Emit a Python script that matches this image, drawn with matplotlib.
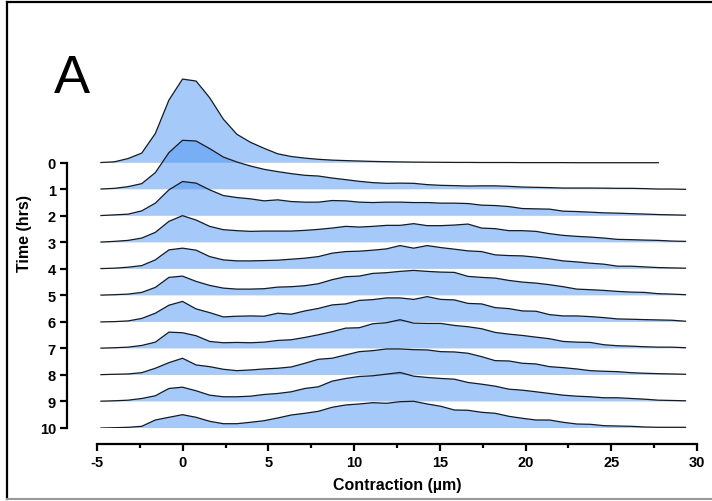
import numpy as np
import matplotlib
matplotlib.use('Agg')
import matplotlib.pyplot as plt
from matplotlib.lines import Line2D
from matplotlib.ticker import MultipleLocator

plt.rcParams['font.family'] = ['Liberation Sans', 'DejaVu Sans']
plt.rcParams['axes.unicode_minus'] = False

# bin centres of the contraction histogram (µm)
contraction = np.linspace(-4.77, 29.33, 44)
hours = list(range(11))

# relative frequency per bin, one ridge per time point
freq_0h = [0.3, 1.0, 4.3, 9.7, 29.3, 62.7, 83.7, 81.7, 65.0, 43.7, 28.5, 20.5, 14.5, 9.0,
           6.3, 4.7, 3.5, 2.7, 2.2, 1.8, 1.4, 1.1, 0.9, 0.7, 0.6, 0.5, 0.4, 0.4, 0.3, 0.3,
           0.3, 0.2, 0.2, 0.2, 0.2, 0.1, 0.1, 0.1, 0.1, 0.1, 0.1, 0.1]
freq_1h = [0.3, 1.0, 2.7, 5.7, 16.7, 36.7, 49.0, 48.3, 40.7, 32.3, 27.3, 23.3, 20.0, 17.7,
           15.7, 14.0, 13.3, 11.3, 9.7, 8.0, 6.7, 6.0, 6.2, 6.0, 4.7, 4.0, 3.7, 3.3, 3.5, 3.5,
           3.0, 2.3, 2.0, 1.7, 1.3, 1.3, 1.3, 1.2, 1.0, 1.0, 0.7, 0.3, 0.3, 0.0]
freq_2h = [0.3, 1.0, 1.7, 5.0, 12.7, 26.0, 34.3, 32.7, 26.0, 20.3, 18.3, 17.0, 15.0, 16.0,
           14.3, 13.7, 13.7, 15.3, 15.0, 13.7, 13.3, 13.7, 13.7, 13.3, 13.3, 12.7, 12.7, 12.3,
           10.7, 10.3, 9.3, 7.3, 7.0, 6.7, 4.7, 4.3, 3.7, 3.0, 2.7, 2.2, 1.8, 1.3, 1.0, 0.7]
freq_3h = [0.3, 1.0, 2.0, 4.3, 10.0, 21.0, 26.7, 22.3, 16.0, 12.7, 11.7, 11.0, 11.3, 11.3,
           11.3, 12.0, 13.0, 14.3, 16.0, 15.3, 16.0, 17.0, 17.0, 18.7, 16.7, 16.7, 17.3, 18.3,
           14.3, 13.7, 11.7, 11.7, 11.0, 8.7, 7.0, 6.0, 5.3, 4.3, 3.0, 2.7, 2.3, 2.0, 1.3, 1.0]
freq_4h = [0.3, 0.7, 1.7, 3.3, 9.0, 19.0, 20.7, 18.7, 12.3, 9.0, 8.0, 8.0, 8.3, 8.7,
           9.7, 10.7, 12.3, 15.7, 17.3, 17.7, 18.7, 20.0, 23.3, 20.7, 23.3, 21.3, 19.7, 18.0,
           17.3, 14.0, 13.3, 13.0, 11.7, 10.0, 8.0, 7.0, 5.7, 4.7, 2.7, 2.7, 2.0, 1.3, 1.0, 0.7]
freq_5h = [0.3, 0.7, 1.3, 3.0, 8.0, 18.0, 19.3, 14.0, 10.0, 7.3, 6.3, 6.3, 6.7, 8.3,
           8.7, 9.7, 11.7, 15.7, 18.7, 19.3, 22.0, 22.7, 24.0, 25.0, 24.0, 23.3, 23.0, 19.0,
           18.0, 17.3, 15.0, 13.3, 12.3, 10.7, 8.7, 6.3, 5.7, 5.0, 4.0, 3.3, 3.0, 1.7, 1.3, 0.7]
freq_6h = [0.0, 0.3, 1.0, 3.5, 8.7, 16.7, 20.5, 13.0, 9.3, 5.0, 5.7, 6.0, 5.7, 8.7,
           7.7, 11.0, 13.5, 17.0, 18.0, 21.5, 22.3, 24.0, 24.0, 22.5, 25.3, 22.5, 22.0, 18.5,
           18.0, 14.3, 13.3, 11.0, 10.7, 7.3, 6.0, 6.0, 5.3, 4.3, 3.0, 2.7, 2.3, 2.0, 1.7, 0.7]
freq_7h = [0.3, 0.7, 1.3, 3.0, 6.3, 16.3, 15.7, 12.7, 7.0, 5.7, 6.0, 5.7, 6.3, 8.0,
           8.7, 11.0, 13.7, 16.7, 20.3, 20.7, 24.7, 25.7, 28.7, 25.3, 25.0, 25.0, 23.0, 21.7,
           19.7, 16.0, 14.3, 13.0, 11.3, 9.7, 7.0, 6.3, 6.0, 3.7, 2.7, 2.3, 1.7, 1.3, 1.3, 0.7]
freq_8h = [0.3, 0.7, 1.0, 2.3, 6.7, 12.3, 16.7, 10.0, 8.3, 5.7, 4.3, 5.0, 6.0, 6.7,
           8.0, 11.7, 15.7, 16.7, 20.0, 23.3, 24.3, 26.0, 26.0, 25.3, 25.0, 23.3, 23.0, 21.7,
           18.3, 14.3, 14.0, 11.7, 11.0, 8.3, 7.3, 6.0, 4.3, 3.7, 3.3, 2.3, 1.7, 1.3, 1.0, 0.7]
freq_9h = [0.3, 0.7, 1.3, 3.0, 5.7, 13.0, 14.3, 10.7, 6.3, 4.7, 4.7, 5.3, 7.0, 8.0,
           9.7, 13.0, 14.7, 20.3, 23.0, 25.0, 25.7, 27.3, 29.0, 25.3, 24.0, 23.0, 22.3, 19.0,
           17.3, 15.3, 12.3, 11.3, 9.7, 8.0, 6.3, 5.3, 4.7, 3.7, 3.7, 3.0, 2.3, 1.3, 1.0, 0.7]
freq_10h = [0.0, 0.3, 0.7, 1.7, 8.0, 10.7, 13.3, 10.7, 6.7, 4.3, 4.3, 5.7, 7.3, 10.0,
            13.0, 14.7, 16.7, 20.7, 23.0, 24.0, 25.3, 24.7, 26.3, 26.7, 24.0, 21.7, 18.0, 17.7,
            15.7, 14.7, 11.7, 9.7, 8.0, 8.0, 5.7, 4.0, 3.7, 2.3, 2.0, 1.7, 1.0, 0.7, 0.7, 0.7]

ridges = [freq_0h, freq_1h, freq_2h, freq_3h, freq_4h, freq_5h,
          freq_6h, freq_7h, freq_8h, freq_9h, freq_10h]

ROW_SCALE = 1 / 26.5   # frequency units -> one row spacing
FILL = '#4d94f5'

fig = plt.figure(figsize=(7.12, 5.02), dpi=100)
ax = fig.add_axes([97 / 712, 73 / 502, 600 / 712, 358 / 502])

for i, f in enumerate(ridges):
    xs = contraction[:len(f)]
    top = -i + np.array(f) * ROW_SCALE
    ax.fill_between(xs, -i, top, facecolor=FILL, alpha=0.5, lw=0, zorder=2 + i)
    ax.plot(xs, top, color='#1a1a1a', lw=0.9, zorder=2 + i)

ax.set_xlim(-5, 30)
ax.set_ylim(-10, 3.5)

for side in ('top', 'right'):
    ax.spines[side].set_visible(False)
ax.spines['left'].set_position(('outward', 21.6))
ax.spines['bottom'].set_position(('outward', 11.5))
ax.spines['left'].set_bounds(-10, 0)
ax.spines['bottom'].set_bounds(-5, 30)
for side in ('left', 'bottom'):
    ax.spines[side].set_linewidth(1.6)

ax.set_xticks(range(-5, 31, 5))
ax.xaxis.set_minor_locator(MultipleLocator(2.5))
ax.set_yticks([-h for h in hours])
ax.set_yticklabels([str(h) for h in hours])
ax.tick_params(which='major', length=5, width=1.6, labelsize=10.5, pad=3)
ax.tick_params(which='minor', length=3, width=1.6)
ax.tick_params(axis='y', which='minor', left=False)
for lab in ax.get_xticklabels() + ax.get_yticklabels():
    lab.set_fontweight('bold')

fig.text(25 / 712, 1 - 233 / 502, 'Time (hrs)', rotation=90, ha='center', va='center',
         fontsize=11.5, fontweight='bold')
fig.text(397 / 712, 1 - 486 / 502, 'Contraction (µm)', ha='center', va='center',
         fontsize=11.5, fontweight='bold')
fig.text(72 / 712, 1 - 79 / 502, 'A', ha='center', va='center', fontsize=39)

# panel frame
fig.add_artist(Line2D([7 / 712, 1], [1 - 3 / 502] * 2, color='black', lw=1.6))
fig.add_artist(Line2D([7 / 712] * 2, [1 - 3 / 502, 1 - 500 / 502], color='black', lw=1.6))
fig.add_artist(Line2D([7 / 712, 1], [1 - 500 / 502] * 2, color='#999999', lw=1.5))

fig.savefig('out.png', dpi=100)
